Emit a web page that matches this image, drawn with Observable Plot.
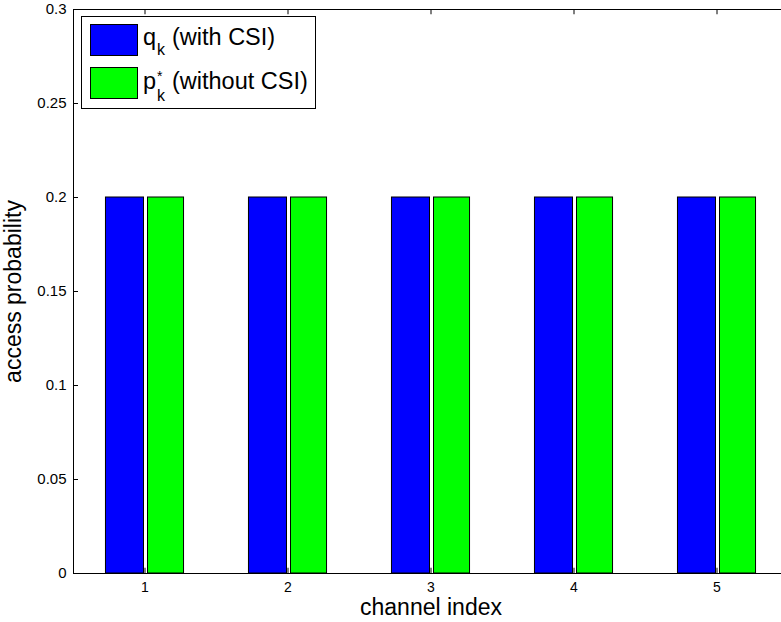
<!DOCTYPE html>
<html><head><meta charset="utf-8">
<script src="https://cdn.jsdelivr.net/npm/d3@7"></script>
<script src="https://cdn.jsdelivr.net/npm/@observablehq/plot@0.6"></script>
<style>
body{margin:0;background:#fff;font-family:"Liberation Sans",Arial,Helvetica,sans-serif;}
#wrap{position:relative;width:781px;height:622px;overflow:hidden;}
#chart svg{max-width:none !important;}
#legend{position:absolute;left:0;top:0;}
</style></head>
<body><div id="wrap"><div id="chart"></div>
<svg id="legend" width="781" height="120" font-family='"Liberation Sans", Arial, Helvetica, sans-serif'>
 <rect x="81.5" y="16.5" width="234" height="92" fill="#fff" stroke="#000"/>
 <rect x="90.5" y="24.5" width="47" height="31" fill="#0000ff" stroke="#000"/>
 <rect x="90.5" y="67.5" width="47" height="31" fill="#00ff00" stroke="#000"/>
 <text font-size="23.5"><tspan x="143" y="45">q</tspan><tspan x="157" y="55" font-size="16">k</tspan><tspan x="172" y="45">(with CSI)</tspan></text>
 <text font-size="23.5"><tspan x="143" y="89">p</tspan><tspan x="157" y="101" font-size="16">k</tspan><tspan x="157" y="81" font-size="14">*</tspan><tspan x="172" y="89">(without CSI)</tspan></text>
</svg>
</div>
<script>
const channels = [1, 2, 3, 4, 5];
const qWithCSI = [0.2, 0.2, 0.2, 0.2, 0.2];
const pWithoutCSI = [0.2, 0.2, 0.2, 0.2, 0.2];
const yTicks = [0, 0.05, 0.1, 0.15, 0.2, 0.25, 0.3];

const bars = [];
channels.forEach((c, i) => {
  bars.push({c, v: qWithCSI[i], x1: c - 0.273, x2: c - 0.007, fill: "#0000ff"});
  bars.push({c, v: pWithoutCSI[i], x1: c + 0.021, x2: c + 0.273, fill: "#00ff00"});
});

const font = '"Liberation Sans", Arial, Helvetica, sans-serif';
const plot = Plot.plot({
  width: 788, height: 622,
  marginLeft: 73, marginRight: 0, marginTop: 9, marginBottom: 49,
  style: {fontFamily: font, background: "#fff", color: "#000", maxWidth: "none"},
  x: {domain: [0.5, 5.5]},
  y: {domain: [0, 0.3]},
  marks: [
    Plot.rect(bars, {x1: "x1", x2: "x2", y1: 0, y2: "v", fill: "fill", stroke: "#000", strokeWidth: 1}),
    Plot.ruleX(channels, {x: d => d, y1: 0, y2: 0.0028, stroke: "#000"}),
    Plot.ruleX(channels, {x: d => d, y1: 0.3, y2: 0.2972, stroke: "#000"}),
    Plot.ruleY(yTicks, {y: d => d, x1: 0.5, x2: 0.535, stroke: "#000"}),
    Plot.frame({stroke: "#000", strokeWidth: 1}),
    Plot.axisX(channels, {tickSize: 0, tickPadding: 9, fontSize: 14, label: null, tickFormat: d => String(d)}),
    Plot.axisY(yTicks, {tickSize: 0, tickPadding: 7, fontSize: 15, label: null, tickFormat: d => String(d)}),
    Plot.text(["access probability"], {frameAnchor: "left", textAnchor: "middle", lineAnchor: "middle", rotate: -90, dx: -60, fontSize: 23, text: d => d}),
    Plot.text(["channel index"], {frameAnchor: "bottom", textAnchor: "middle", lineAnchor: "middle", dy: 34, fontSize: 23, text: d => d})
  ]
});
document.getElementById("chart").appendChild(plot);
</script>
</body></html>
